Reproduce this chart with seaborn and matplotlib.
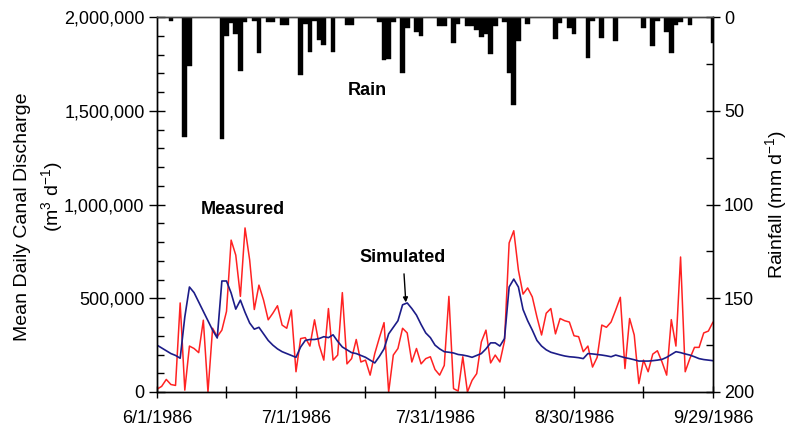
import numpy as np
import pandas as pd
import matplotlib
matplotlib.use("Agg")
import matplotlib.pyplot as plt
import matplotlib.dates as mdates
from matplotlib.ticker import FuncFormatter, MultipleLocator
import seaborn as sns

# ---------------- data ----------------
dates = pd.date_range("1986-06-01", "1986-09-29", freq="D")

measured_k = [
    15, 30, 67, 40, 35, 475, 10, 245, 232, 210,
    383, 0, 340, 295, 330, 430, 810, 730, 510, 875,
    704, 440, 570, 490, 385, 420, 460, 357, 340, 437,
    108, 285, 290, 245, 385, 250, 170, 445, 170, 197,
    530, 150, 178, 280, 160, 170, 90, 205, 290, 370,
    0, 197, 232, 340, 315, 160, 232, 150, 178, 188,
    120, 90, 142, 510, 18, 5, 188, 0, 62, 98,
    267, 330, 155, 197, 160, 272, 795, 860, 650, 522,
    555, 507, 400, 304, 420, 445, 310, 392, 380, 373,
    300, 295, 215, 245, 133, 185, 357, 345, 373, 437,
    505, 125, 392, 304, 45, 170, 108, 202, 220, 160,
    90, 386, 245, 720, 108, 178, 238, 238, 315, 325,
    373,
]

simulated_k = [
    250, 235, 220, 205, 195, 180, 400, 560, 530, 480,
    430, 380, 330, 288, 592, 592, 528, 442, 490, 425,
    368, 335, 345, 310, 275, 250, 230, 215, 205, 195,
    185, 240, 275, 280, 280, 285, 295, 290, 305, 270,
    240, 225, 210, 205, 195, 185, 170, 155, 190, 230,
    310, 345, 380, 465, 475, 445, 410, 360, 315, 290,
    250, 230, 215, 212, 208, 200, 197, 192, 185, 195,
    205, 230, 262, 262, 245, 285, 560, 602, 560, 440,
    380, 330, 275, 245, 225, 212, 205, 198, 192, 188,
    186, 183, 178, 205, 203, 200, 197, 193, 188, 197,
    190, 183, 178, 172, 165, 165, 165, 167, 170, 174,
    185, 200, 215, 210, 203, 197, 188, 178, 173, 170,
    167,
]

rain_mm = [
    0, 0, 0, 2, 0, 0, 64, 26, 0, 0,
    0, 0, 0, 0, 65, 10, 3, 9, 29, 2.5,
    0, 2, 19, 0, 2.5, 2.5, 0, 4, 4, 0,
    0, 31, 3.5, 18.5, 2, 12.5, 15, 0, 18.5, 0,
    0, 4, 4, 0, 0, 0, 0, 0, 2.5, 23,
    22.5, 2.5, 0, 30, 6, 0, 8, 10, 0, 0,
    0, 5, 5, 0, 14, 3.5, 0, 5, 5, 7,
    10.7, 9, 19.5, 5, 0, 2.5, 30, 47, 13, 0,
    3.5, 0, 0, 0, 0, 0, 11.5, 3, 0, 6,
    9, 0, 0, 21.7, 2, 0, 11, 0, 0, 13,
    0, 0, 0, 0, 0, 6, 0, 15.5, 2, 0,
    8, 19, 4, 2.5, 0, 4, 0, 0, 0, 0,
    14,
]

x_tick_labels = ["6/1/1986", "7/1/1986", "7/31/1986", "8/30/1986", "9/29/1986"]

df = pd.DataFrame({
    "date": dates,
    "Measured": np.array(measured_k) * 1000.0,
    "Simulated": np.array(simulated_k) * 1000.0,
    "Rain": rain_mm,
})

# ---------------- style ----------------
sns.set_theme(style="ticks")
plt.rcParams["font.family"] = ["Liberation Sans", "DejaVu Sans"]
plt.rcParams["mathtext.fontset"] = "custom"
plt.rcParams["mathtext.rm"] = "Liberation Sans"
plt.rcParams["mathtext.it"] = "Liberation Sans:italic"
plt.rcParams["mathtext.bf"] = "Liberation Sans:bold"
plt.rcParams["mathtext.default"] = "rm"
for k in ["text.color", "axes.labelcolor", "xtick.color", "ytick.color", "axes.edgecolor"]:
    plt.rcParams[k] = "black"

FS = 13
RED = "#ff2222"
BLUE = "#1c1c88"

fig = plt.figure(figsize=(7.91, 4.28), dpi=100)
ax = fig.add_axes([157 / 791, 1 - 392 / 428, (713 - 157) / 791, (392 - 17) / 428])

sns.lineplot(data=df, x="date", y="Measured", color=RED, linewidth=1.1, ax=ax)
sns.lineplot(data=df, x="date", y="Simulated", color=BLUE, linewidth=1.2, ax=ax)

ax.set_xlim(dates[0], dates[-1])
ax.set_ylim(0, 2_000_000)
ax.set_xlabel("")
ax.set_ylabel("")

# x ticks every 15 days, labelled every 30
tick_dates = pd.date_range(dates[0], dates[-1], freq="15D")
label_dates = set(pd.to_datetime(x_tick_labels, format="%m/%d/%Y"))
ax.set_xticks(tick_dates)
ax.set_xticklabels([f"{d.month}/{d.day}/{d.year}" if d in label_dates else "" for d in tick_dates])

ax.yaxis.set_major_locator(MultipleLocator(500_000))
ax.yaxis.set_minor_locator(MultipleLocator(100_000))
ax.yaxis.set_major_formatter(FuncFormatter(lambda v, p: f"{int(v):,}"))

ax.tick_params(axis="x", which="major", direction="inout", length=8, width=1,
               labelsize=FS, pad=9, colors="black")
ax.tick_params(axis="y", which="major", direction="inout", length=12, width=1,
               labelsize=FS, pad=3, colors="black")
ax.tick_params(axis="y", which="minor", direction="in", length=5, width=1, colors="black")

for s in ax.spines.values():
    s.set_visible(True)
    s.set_color("black")
    s.set_linewidth(1.0)
ax.spines["top"].set_color("#444444")

# ---------------- rain on twin axis ----------------
ax2 = ax.twinx()
ax2.bar(df["date"], df["Rain"], width=1.0, color="black", edgecolor="black",
        linewidth=0.3, align="center")
ax2.set_ylim(200, 0)
ax2.set_xlim(dates[0], dates[-1])
ax2.yaxis.set_major_locator(MultipleLocator(50))
ax2.yaxis.set_minor_locator(MultipleLocator(25))
ax2.tick_params(axis="y", which="major", direction="inout", length=10, width=1,
                labelsize=FS, pad=3, colors="black")
ax2.tick_params(axis="y", which="minor", direction="in", length=5, width=1, colors="black")
ax2.set_ylabel("")
for s in ax2.spines.values():
    s.set_color("black")
    s.set_linewidth(1.0)
ax2.spines["top"].set_color("#444444")

# ---------------- annotations ----------------
d0 = mdates.date2num(dates[0])
ax.text(d0 + 18.6, 971_000, "Measured", ha="center", va="center",
        fontsize=FS, fontweight="bold", color="black")
ax.text(d0 + 45.3, 1_610_000, "Rain", ha="center", va="center",
        fontsize=FS, fontweight="bold", color="black")
ax.annotate("Simulated", xy=(d0 + 53.7, 478_000), xytext=(d0 + 53.1, 715_000),
            ha="center", va="center", fontsize=FS, fontweight="bold", color="black",
            arrowprops=dict(arrowstyle="-|>", color="black", lw=1.0,
                            mutation_scale=7, shrinkA=3, shrinkB=0))

# ---------------- axis titles ----------------
fig.text(23 / 791, 1 - 217 / 428, "Mean Daily Canal Discharge", rotation=90,
         ha="center", va="center", fontsize=FS + 1, color="black")
fig.text(52 / 791, 1 - 197 / 428, "(m$^3$ d$^{-1}$)", rotation=90,
         ha="center", va="center", fontsize=FS + 1, color="black")
fig.text(776 / 791, 1 - 204 / 428, "Rainfall (mm d$^{-1}$)", rotation=90,
         ha="center", va="center", fontsize=FS + 1, color="black")

fig.savefig("out.png", dpi=100)
